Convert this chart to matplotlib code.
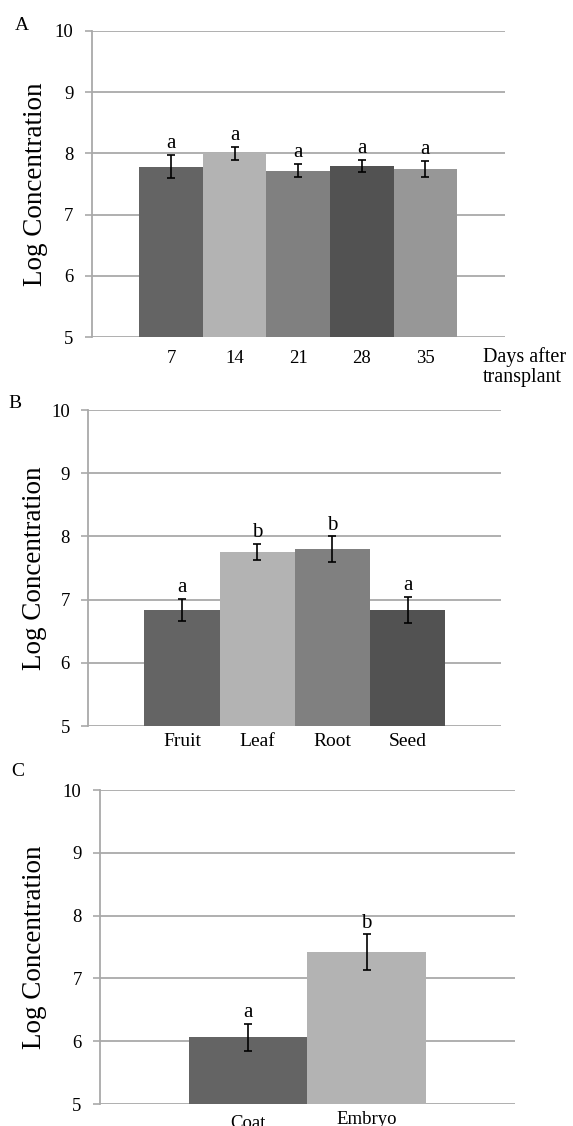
"""Log concentration by sampling time (A), plant organ (B) and seed part (C)."""

import matplotlib
matplotlib.use("Agg")
import matplotlib.pyplot as plt
from matplotlib.transforms import ScaledTranslation

plt.rcParams["font.family"] = ["Liberation Serif", "DejaVu Serif"]

# Panel A: days after transplant.
days = ["7", "14", "21", "28", "35"]
days_mean = [7.78, 8.00, 7.72, 7.80, 7.75]
days_err = [0.19, 0.11, 0.10, 0.10, 0.13]
days_sig = ["a", "a", "a", "a", "a"]

# Panel B: organs.
organs = ["Fruit", "Leaf", "Root", "Seed"]
organs_mean = [6.84, 7.75, 7.80, 6.84]
organs_err = [0.17, 0.13, 0.20, 0.21]
organs_sig = ["a", "b", "b", "a"]

# Panel C: seed parts.
parts = ["Coat", "Embryo"]
parts_mean = [6.06, 7.42]
parts_err = [0.22, 0.28]
parts_sig = ["a", "b"]

greys = ["#646464", "#b3b3b3", "#808080", "#525252", "#979797"]
grid_col = "#a9a9a9"


def panel(ax, names, mean, err, sig, tick_size, tick_pad, ylab_x):
    n = len(names)
    x = list(range(n))
    ax.bar(x, mean, width=1.0, bottom=0, color=greys[:n], zorder=2)
    ax.errorbar(x, mean, yerr=err, fmt="none", ecolor="black",
                elinewidth=1.2, capsize=3, capthick=1.2, zorder=3)
    for xi, m, e, s in zip(x, mean, err, sig):
        ax.annotate(s, (xi, m + e), xytext=(0, 5), textcoords="offset points",
                    ha="center", va="baseline", fontsize=15)
    ax.set_xlim(-0.5 - 0.75, n - 0.5 + 0.75)
    ax.set_ylim(5, 10)
    ax.set_yticks([5, 6, 7, 8, 9, 10])
    ax.set_xticks(x)
    ax.set_xticklabels(names, fontsize=tick_size)
    ax.tick_params(axis="x", length=0, pad=tick_pad)
    ax.tick_params(axis="y", length=5, width=1.2, color=grid_col,
                   labelsize=13.5, pad=8)
    ax.grid(axis="y", color=grid_col, linewidth=1.3, zorder=0)
    ax.set_axisbelow(True)
    for side in ["top", "right", "bottom"]:
        ax.spines[side].set_visible(False)
    ax.spines["left"].set_color(grid_col)
    ax.spines["left"].set_linewidth(1.3)
    ax.set_ylabel("Log Concentration", fontsize=19.5)
    ax.yaxis.set_label_coords(ylab_x, 0.5)
    return ax


fig = plt.figure(figsize=(5.73, 11.26), dpi=100)

ax_a = fig.add_axes([0.160, 0.7007, 0.721, 0.2718])
panel(ax_a, days, days_mean, days_err, days_sig, 13.5, 9, -0.106)

ax_b = fig.add_axes([0.1536, 0.3552, 0.7216, 0.2806])
panel(ax_b, organs, organs_mean, organs_err, organs_sig, 14, 5, -0.099)

ax_c = fig.add_axes([0.174, 0.0195, 0.7248, 0.2789])
panel(ax_c, parts, parts_mean, parts_err, parts_sig, 13.5, 5, -0.127)
# "Coat" sits a little lower than "Embryo" in the original.
coat = ax_c.get_xticklabels()[0]
coat.set_transform(coat.get_transform()
                   + ScaledTranslation(0, -3 / 72, fig.dpi_scale_trans))

fig.text(483 / 573, 1 - 367 / 1126, "Days after\ntransplant", fontsize=14.5,
         ha="left", va="center", linespacing=1.1)

fig.text(22 / 573, 1 - 25 / 1126, "A", fontsize=14, ha="center", va="center")
fig.text(15 / 573, 1 - 403 / 1126, "B", fontsize=14, ha="center", va="center")
fig.text(18 / 573, 1 - 772 / 1126, "C", fontsize=14, ha="center", va="center")

fig.savefig("out.png", dpi=100)
